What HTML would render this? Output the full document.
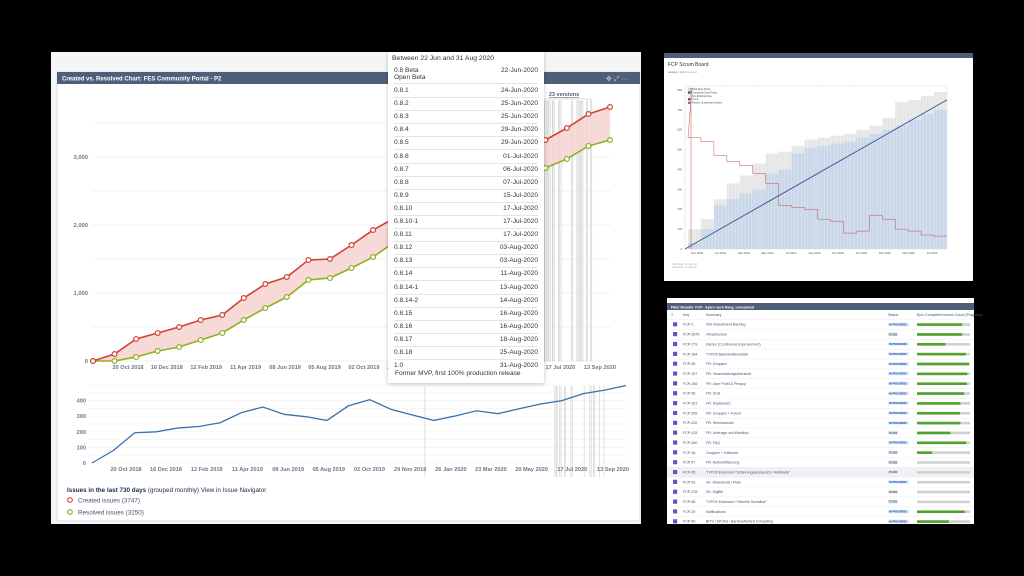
<!DOCTYPE html>
<html><head><meta charset="utf-8">
<style>
html,body{margin:0;padding:0;background:#000;}
body{width:1024px;height:576px;position:relative;overflow:hidden;font-family:"Liberation Sans",sans-serif;}
.abs{position:absolute;}
#tip{left:388px;top:52px;width:156px;height:331px;background:#fff;box-shadow:0 1px 4px rgba(0,0,0,.25);font-size:6.6px;color:#333;}
#tip .row{position:absolute;left:6px;right:6px;height:13px;border-bottom:1px solid #e4e4e4;}
#tip .row span{position:absolute;top:3px}
#tip .row .d{right:0}
</style></head>
<body>
<div class="abs" style="left:51px;top:52px;width:590px;height:472px;background:#f4f5f7"></div>
<svg class="abs" style="left:0;top:0" width="1024" height="576" id="svg">
  <rect x="57" y="72" width="583" height="449" fill="#fff" stroke="#dfe1e6"/>
  <rect x="57" y="72" width="583" height="12" fill="#505f79"/>
  <text x="62" y="80.5" font-size="6" font-weight="bold" fill="#fff">Created vs. Resolved Chart: FES Community Portal - P2</text>
  <text x="606" y="81" font-size="7" fill="#c1c7d0">✥ ⤢ ···</text>
  <g id="main"></g>
  <g id="sub"></g>
  <text x="67" y="492" font-size="6.3" fill="#172b4d"><tspan font-weight="bold">Issues in the last 730 days</tspan> (grouped monthly) View in Issue Navigator</text>
  <circle cx="70" cy="500" r="2.3" fill="#fff" stroke="#d04437" stroke-width="1.2"/>
  <text x="78" y="502.5" font-size="6.3" fill="#42526e">Created issues (3747)</text>
  <circle cx="70" cy="512" r="2.3" fill="#fff" stroke="#8eb021" stroke-width="1.2"/>
  <text x="78" y="514.5" font-size="6.3" fill="#42526e">Resolved issues (3250)</text>

  <rect x="664" y="53" width="309" height="228" fill="#fff"/>
  <rect x="664" y="53" width="309" height="5" fill="#505f79"/>
  <text x="668" y="66" font-size="5" fill="#333">FCP Scrum Board</text>
  <text x="668" y="73" font-size="3" fill="#555">version: 1.0 <tspan fill="#aaa">Released</tspan></text>
  <g id="scrum"></g>

  <rect x="667" y="298" width="307" height="226" fill="#fff"/>
  <rect x="667" y="303" width="307" height="7" fill="#505f79"/>
  <text x="671" y="308.5" font-size="3.5" font-weight="bold" fill="#fff">Filter Results: FCP - Epics nach Rang, unresolved</text>
  <g id="tbl" font-size="3.6" fill="#42526e"></g>
</svg>

<div id="tip" class="abs">
  <div style="position:absolute;left:4px;top:3px;font-size:6.8px">Between 22 Jun and 31 Aug 2020</div>
  <div id="tiprows"></div>
  <div style="position:absolute;left:7px;top:318px;font-size:6.6px">Former MVP, first 100% production release</div>
</div>

<script>
const NS="http://www.w3.org/2000/svg";
function mk(parent,tag,attrs,text){const e=document.createElementNS(NS,tag);for(const k in attrs)e.setAttribute(k,attrs[k]);if(text!==undefined)e.textContent=text;parent.appendChild(e);return e;}

const createdCum=[0,103,324,412,500,603,676,926,1132,1235,1485,1500,1706,1926,2103,2267,2431,2595,2759,2923,3087,3250,3426,3632,3735];
const resolvedCum=[0,0,59,147,206,309,412,603,779,941,1191,1221,1368,1529,1750,1905,2060,2215,2370,2525,2680,2838,2971,3162,3250];
const yTicks=[0,1000,2000,3000];
const yTickLabels=["0","1,000","2,000","3,000"];
const xTickDates=["2018-10-20","2018-12-16","2019-02-12","2019-04-11","2019-06-08","2019-08-05","2019-10-02","2019-11-29","2020-01-26","2020-03-23","2020-05-20","2020-07-17","2020-09-13"];
const xTickLabels=["20 Oct 2018","16 Dec 2018","12 Feb 2019","11 Apr 2019","08 Jun 2019","05 Aug 2019","02 Oct 2019","29 Nov 2019","26 Jan 2020","23 Mar 2020","20 May 2020","17 Jul 2020","13 Sep 2020"];
const versionDates=["2019-12-20","2020-06-22","2020-06-24","2020-06-25","2020-06-25","2020-06-29","2020-07-01","2020-07-06","2020-07-07","2020-07-15","2020-07-17","2020-08-03","2020-08-11","2020-08-13","2020-08-16","2020-08-18","2020-08-25","2020-08-31"];
const netValues=[0,80,194,200,224,234,258,323,359,312,297,273,366,406,344,308,273,301,335,316,348,378,400,445,467,497];
const subTicks=[0,100,200,300,400];

const day0=Date.parse("2018-10-20");
const days=d=>(Date.parse(d)-day0)/864e5;
const mx=i=>93+i*(517/(createdCum.length-1));
const my=v=>361-v*0.068;
const mdx=d=>128+days(d)*0.680;
const sx=i=>92+i*(534/(netValues.length-1));
const sy=v=>463-v*0.156;
const sdx=d=>126+days(d)*0.7017;

const main=document.getElementById('main');
for(let v=0;v<=3500;v+=500){
  const g=mk(main,'line',{x1:92,x2:611,y1:my(v),y2:my(v),stroke:'#ebecf0','stroke-width':0.7});
  
  
}
yTicks.forEach((v,i)=>{
  const t=mk(main,'text',{x:88,y:my(v)+2,'font-size':5.8,'text-anchor':'end',fill:'#6b778c','font-weight':'bold'},yTickLabels[i]);
  
  
});
xTickDates.forEach((d,i)=>{
  const x=mdx(d); if(x>615) return;
  const t=mk(main,'text',{x:x,y:369,'font-size':5.6,'text-anchor':'middle',fill:'#6b778c','font-weight':'bold'},xTickLabels[i]);
  
  
});
versionDates.forEach(d=>{
  const r=mk(main,'rect',{x:mdx(d)-0.8,y:101,width:1.6,height:260,fill:'#f0f0f0',stroke:'#c8c8c8','stroke-width':0.4});
  
  
});
const br=mk(main,'path',{d:'M543,101 L543,99 L591,99 L591,101 M567,99 L567,97',fill:'none',stroke:'#bbb','stroke-width':0.6});


const vl=mk(main,'text',{x:564,y:96,'font-size':5.5,'text-anchor':'middle',fill:'#505f79','font-weight':'bold','text-decoration':'underline'},'23 versions');


let pts=createdCum.map((v,i)=>mx(i)+','+my(v)).join(' ')+' '+resolvedCum.map((v,i)=>mx(i)+','+my(v)).reverse().join(' ');
const area=mk(main,'polygon',{points:pts,fill:'#f6d3d1',opacity:0.85});


function series(arr,color,name){
  const l=mk(main,'polyline',{points:arr.map((v,i)=>mx(i)+','+my(v)).join(' '),fill:'none',stroke:color,'stroke-width':1.6});
  
  
  arr.forEach((v,i)=>{
    const c=mk(main,'circle',{cx:mx(i),cy:my(v),r:2.4,fill:'#fff',stroke:color,'stroke-width':1.2});
    
    
  });
}
series(resolvedCum,'#8eb021','resolved');
series(createdCum,'#d04437','created');

const sub=document.getElementById('sub');
for(let v=0;v<=500;v+=50){
  const g=mk(sub,'line',{x1:88,x2:627,y1:sy(v),y2:sy(v),stroke:'#f0f1f3','stroke-width':0.6});
  
  
}
subTicks.forEach(v=>{
  const t=mk(sub,'text',{x:86,y:sy(v)+2,'font-size':5.6,'text-anchor':'end',fill:'#6b778c','font-weight':'bold'},String(v));
  
  
});
versionDates.forEach(d=>{
  const r=mk(sub,'line',{x1:sdx(d),x2:sdx(d),y1:386,y2:477,stroke:'#d8d8d8','stroke-width':0.8});
  
  
});
xTickDates.forEach((d,i)=>{
  const t=mk(sub,'text',{x:sdx(d),y:471,'font-size':5.6,'text-anchor':'middle',fill:'#6b778c','font-weight':'bold'},xTickLabels[i]);
  
  
});
const nl=mk(sub,'polyline',{points:netValues.map((v,i)=>sx(i)+','+sy(v)).join(' '),fill:'none',stroke:'#3572b0','stroke-width':1.3});



const verNames=["0.8.1","0.8.2","0.8.3","0.8.4","0.8.5","0.8.6","0.8.7","0.8.8","0.8.9","0.8.10","0.8.10-1","0.8.11","0.8.12","0.8.13","0.8.14","0.8.14-1","0.8.14-2","0.8.15","0.8.16","0.8.17","0.8.18","1.0"];
const verDates=["24-Jun-2020","25-Jun-2020","25-Jun-2020","29-Jun-2020","29-Jun-2020","01-Jul-2020","06-Jul-2020","07-Jul-2020","15-Jul-2020","17-Jul-2020","17-Jul-2020","17-Jul-2020","03-Aug-2020","03-Aug-2020","11-Aug-2020","13-Aug-2020","14-Aug-2020","16-Aug-2020","16-Aug-2020","18-Aug-2020","25-Aug-2020","31-Aug-2020"];
const tr=document.getElementById('tiprows');
let h='<div class="row" style="top:12px;height:19px"><span>0.8 Beta<br>Open Beta</span><span class="d">22-Jun-2020</span></div>';
verNames.forEach((n,i)=>{
  h+='<div class="row" style="top:'+(32+i*13.1)+'px'+(i==verNames.length-1?';border:none':'')+'"><span>'+n+'</span><span class="d">'+verDates[i]+'</span></div>';
});
tr.innerHTML=h;

// ===== Scrum board =====
const totalPts=[100,150,250,330,370,430,480,490,520,550,560,570,580,600,620,660,740,750,770,790];
const donePts=[30,100,220,250,280,300,380,400,480,510,520,530,540,560,580,600,620,650,680,700];
const remaining=[560,540,470,440,420,380,330,220,210,200,150,140,80,90,170,150,100,90,70,65];
const scrumTicks=[0,100,200,300,400,500,600,700,800];
const scrumMonths=["Nov 2018","Jan 2019","Mar 2019","May 2019","Jul 2019","Sep 2019","Nov 2019","Jan 2020","Mar 2020","May 2020","Jul 2020"];
const sc=document.getElementById('scrum');
const px0=685,px1=947,py0=249,py1=86;
const scx=i=>px0+3+i*(px1-px0-3)/totalPts.length;
const scy=v=>py0-v*(py0-py1)/820;
const fr=mk(sc,'rect',{x:px0,y:py1,width:px1-px0,height:py0-py1,fill:'#fff',stroke:'#ccc','stroke-width':0.4});


function stepPath(arr){let d='M'+scx(0)+','+py0;arr.forEach((v,i)=>{d+=' L'+scx(i)+','+scy(v)+' L'+scx(i+1)+','+scy(v);});return d+' L'+px1+','+py0+'Z';}
const ga=mk(sc,'path',{d:stepPath(totalPts),fill:'#e6e6e6'});


const ba=mk(sc,'path',{d:stepPath(donePts),fill:'#c9d7e8'});


for(let x=px0+4;x<px1;x+=3.3){
  const nw=mk(sc,'line',{x1:x,x2:x,y1:py1,y2:py0,stroke:'#fff','stroke-width':0.35,opacity:0.7});
  
  
}
const gl=mk(sc,'line',{x1:px0,y1:py0,x2:px1,y2:scy(750),stroke:'#2d5596','stroke-width':0.9});


let rd='M'+(px0+6)+','+py0+' L'+(px0+6)+','+scy(810)+' L'+(px0+7)+','+scy(810);
remaining.forEach((v,i)=>{rd+=' L'+scx(i)+','+scy(v)+' L'+scx(i+1)+','+scy(v);});
const rl=mk(sc,'path',{d:rd,fill:'none',stroke:'#c0504d','stroke-width':0.5});


scrumTicks.forEach(v=>{
  const t=mk(sc,'text',{x:px0-3,y:scy(v)+1,'font-size':2.8,'text-anchor':'end',fill:'#555'},String(v));
  
  
});
scrumMonths.forEach((m,i)=>{
  const t=mk(sc,'text',{x:px0+12+i*23.5,y:py0+5,'font-size':2.8,'text-anchor':'middle',fill:'#555'},m);
  
  
});
[["Total Story Points","#ddd"],["Completed Story Points","#2d5596"],["Non Working Days","#fff"],["Trend","#2d5596"],["Remain Unestimated Issues","#c0504d"]].forEach((e,i)=>{
  mk(sc,'rect',{x:688,y:88+i*3.4,width:2.5,height:2.2,fill:e[1],stroke:'#999','stroke-width':0.2});
  const t=mk(sc,'text',{x:692,y:90+i*3.4,'font-size':2.4,fill:'#444'},e[0]);
  
  
});
mk(sc,'text',{x:672,y:265,'font-size':2.6,fill:'#aaa'},'Start date: 19-Sep-18');
mk(sc,'text',{x:672,y:268,'font-size':2.6,fill:'#aaa'},'Released: 31-Aug-20');

// ===== Epics table =====
const keys=["FCP-2","FCP-2876","FCP-279","FCP-184","FCP-65","FCP-257","FCP-266","FCP-56","FCP-261","FCP-309","FCP-232","FCP-415","FCP-260","FCP-36","FCP-57","FCP-35","FCP-53","FCP-278","FCP-66","FCP-29","FCP-50"];
const summaries=["000 Impediment Backlog","Infrastructure","Kaizen (Continuous Improvement)","TYPO3 Basisfunktionalität","FR: Gruppen","FR: Veranstaltungsübersicht","FR: User Profil & Privacy","FR: Chat","FR: Dashboard","FR: Gruppen + Forum","FR: Seminarwahl","FR: Umfrage und Wahltool","FR: FAQ","Gruppen + Kalender","FR: Authentifizierung","TYPO3 Extension \"Erfahrungsaustausch / Weltkarte\"","ZK: Warenkorb / Pulls","ZK: DigBib","TYPO3 Extension \"Virtuelle Sozialbar\"","Notifications","BITV / WCAG / Barrierefreiheit Consulting"];
const statuses=["IN PROGRESS","TO DO","IN PROGRESS","IN PROGRESS","IN PROGRESS","IN PROGRESS","IN PROGRESS","IN PROGRESS","IN PROGRESS","IN PROGRESS","IN PROGRESS","TO DO","IN PROGRESS","TO DO","TO DO","TO DO","IN PROGRESS","TO DO","TO DO","IN PROGRESS","IN PROGRESS"];
const progress=[0.85,0.85,0.54,0.92,0.98,0.95,0.94,0.89,0.82,0.81,0.82,0.63,0.93,0.28,0,0,0,0,0,0.9,0.6];
const tb=document.getElementById('tbl');
[["T",671],["Key",683],["Summary",706],["Status",888],["Epic Completed Issues Count (Progress)",917]].forEach(c=>{
  const t=mk(tb,'text',{x:c[1],y:316},c[0]);
  
  
});
const rowY=i=>324.5+i*9.85;
keys.forEach((k,i)=>{
  const y=rowY(i);
  if(i===15){const hl=mk(tb,'rect',{x:667,y:y-4.9,width:307,height:9.8,fill:'#f0f1f4'});}
  const ln=mk(tb,'line',{x1:667,x2:974,y1:y-4.9,y2:y-4.9,stroke:'#e8e9ec','stroke-width':0.4});
  
  
  const ic=mk(tb,'rect',{x:673,y:y-2.3,width:4.2,height:4.2,fill:'#6554c0',rx:0.5});
  
  
  const kt=mk(tb,'text',{x:683,y:y+1.2},k);
  
  
  const st=mk(tb,'text',{x:706,y:y+1.2},summaries[i]);
  
  
  const ip=statuses[i]==="IN PROGRESS";
  const sb=mk(tb,'rect',{x:888,y:y-1.8,width:ip?21:10,height:3.4,fill:ip?'#deebff':'#dfe1e6'});
  
  
  const stt=mk(tb,'text',{x:889,y:y+0.9,'font-size':2.6,'font-weight':'bold',fill:ip?'#0747a6':'#42526e'},statuses[i]);
  
  
  const bg=mk(tb,'rect',{x:917,y:y-1.2,width:53,height:2.6,fill:'#d0d0d0'});
  
  
  const fg=mk(tb,'rect',{x:917,y:y-1.2,width:53*progress[i],height:2.6,fill:'#4fa22e'});
  
  
});
</script>
</body></html>
